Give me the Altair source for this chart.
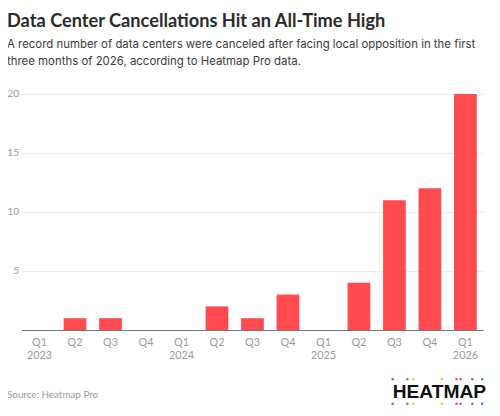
import altair as alt
import pandas as pd

quarters = ["Q1", "Q2", "Q3", "Q4", "Q1", "Q2", "Q3", "Q4", "Q1", "Q2", "Q3", "Q4", "Q1"]
years = ["2023", "2023", "2023", "2023", "2024", "2024", "2024", "2024", "2025", "2025", "2025", "2025", "2026"]
cancellations = [0, 1, 1, 0, 0, 2, 1, 3, 0, 4, 11, 12, 20]
y_ticks = [5, 10, 15, 20]

periods = [f"{q} {y}" for q, y in zip(quarters, years)]
df = pd.DataFrame({"period": periods, "value": cancellations})

FONT = "Lato"
GRAY = "#9a9a9a"

bars = alt.Chart(df).mark_bar(color="#FF4B4F").encode(
    x=alt.X(
        "period:N",
        sort=periods,
        scale=alt.Scale(paddingInner=0.36, paddingOuter=0.18),
        axis=alt.Axis(
            title=None,
            labelAngle=0,
            labelExpr="slice(datum.value,0,2)=='Q1' ? split(datum.value,' ') : slice(datum.value,0,2)",
            labelColor=GRAY,
            labelFontSize=11,
            labelFont=FONT,
            labelPadding=7,
            labelLineHeight=13,
            ticks=False,
            domainColor="#777777",
            domainWidth=1.2,
        ),
    ),
    y=alt.Y(
        "value:Q",
        scale=alt.Scale(domain=[0, 20]),
        axis=alt.Axis(
            title=None,
            values=y_ticks,
            labelColor=GRAY,
            labelFontSize=10.5,
            labelFont=FONT,
            labelPadding=3,
            ticks=False,
            domain=False,
            gridColor="#ececec",
        ),
    ),
)

one = alt.Data(values=[{}])

source = alt.Chart(one).mark_text(
    text="Source: Heatmap Pro", align="left", baseline="middle",
    font=FONT, fontSize=10, color=GRAY,
).encode(x=alt.value(-15), y=alt.value(306))

logo = alt.Chart(one).mark_text(
    text="HEATMAP", align="right", baseline="middle",
    font="Liberation Sans", fontSize=19.5, fontWeight="bold", color="#111111",
).encode(x=alt.value(472), y=alt.value(303))

def dot(dx, dy, color):
    return alt.Chart(one).mark_square(size=5, color=color, opacity=1).encode(
        x=alt.value(dx), y=alt.value(dy)
    )

dots = []
for row in (290, 315):
    for dx, c in [(377, "#2f7fd0"), (392, "#e0484b"), (398, "#f1c531"),
                  (427, "#f1c531"), (442, "#e0484b"), (446, "#e0484b"),
                  (458, "#2f7fd0"), (468, "#2f7fd0")]:
        dots.append(dot(dx, row, c))

chart = alt.layer(bars, source, logo, *dots).properties(
    width=469,
    height=240,
    padding={"left": 14, "top": 84, "right": 9, "bottom": 76},
    autosize=alt.AutoSizeParams(type="none"),
    title=alt.TitleParams(
        text="Data Center Cancellations Hit an All-Time High",
        subtitle=[
            "A record number of data centers were canceled after facing local opposition in the first",
            "three months of 2026, according to Heatmap Pro data.",
        ],
        anchor="start",
        frame="group",
        dx=-15,
        dy=-2,
        font=FONT,
        fontSize=18.5,
        fontWeight="bold",
        color="#2b2b2b",
        subtitleFont="Inter",
        subtitleFontSize=11.6,
        subtitleColor="#3a3a3a",
        subtitleLineHeight=17,
        subtitlePadding=9,
        offset=20,
    ),
).configure_view(stroke=None)

chart.save("out.html", embed_options={"renderer": "svg", "actions": False})
